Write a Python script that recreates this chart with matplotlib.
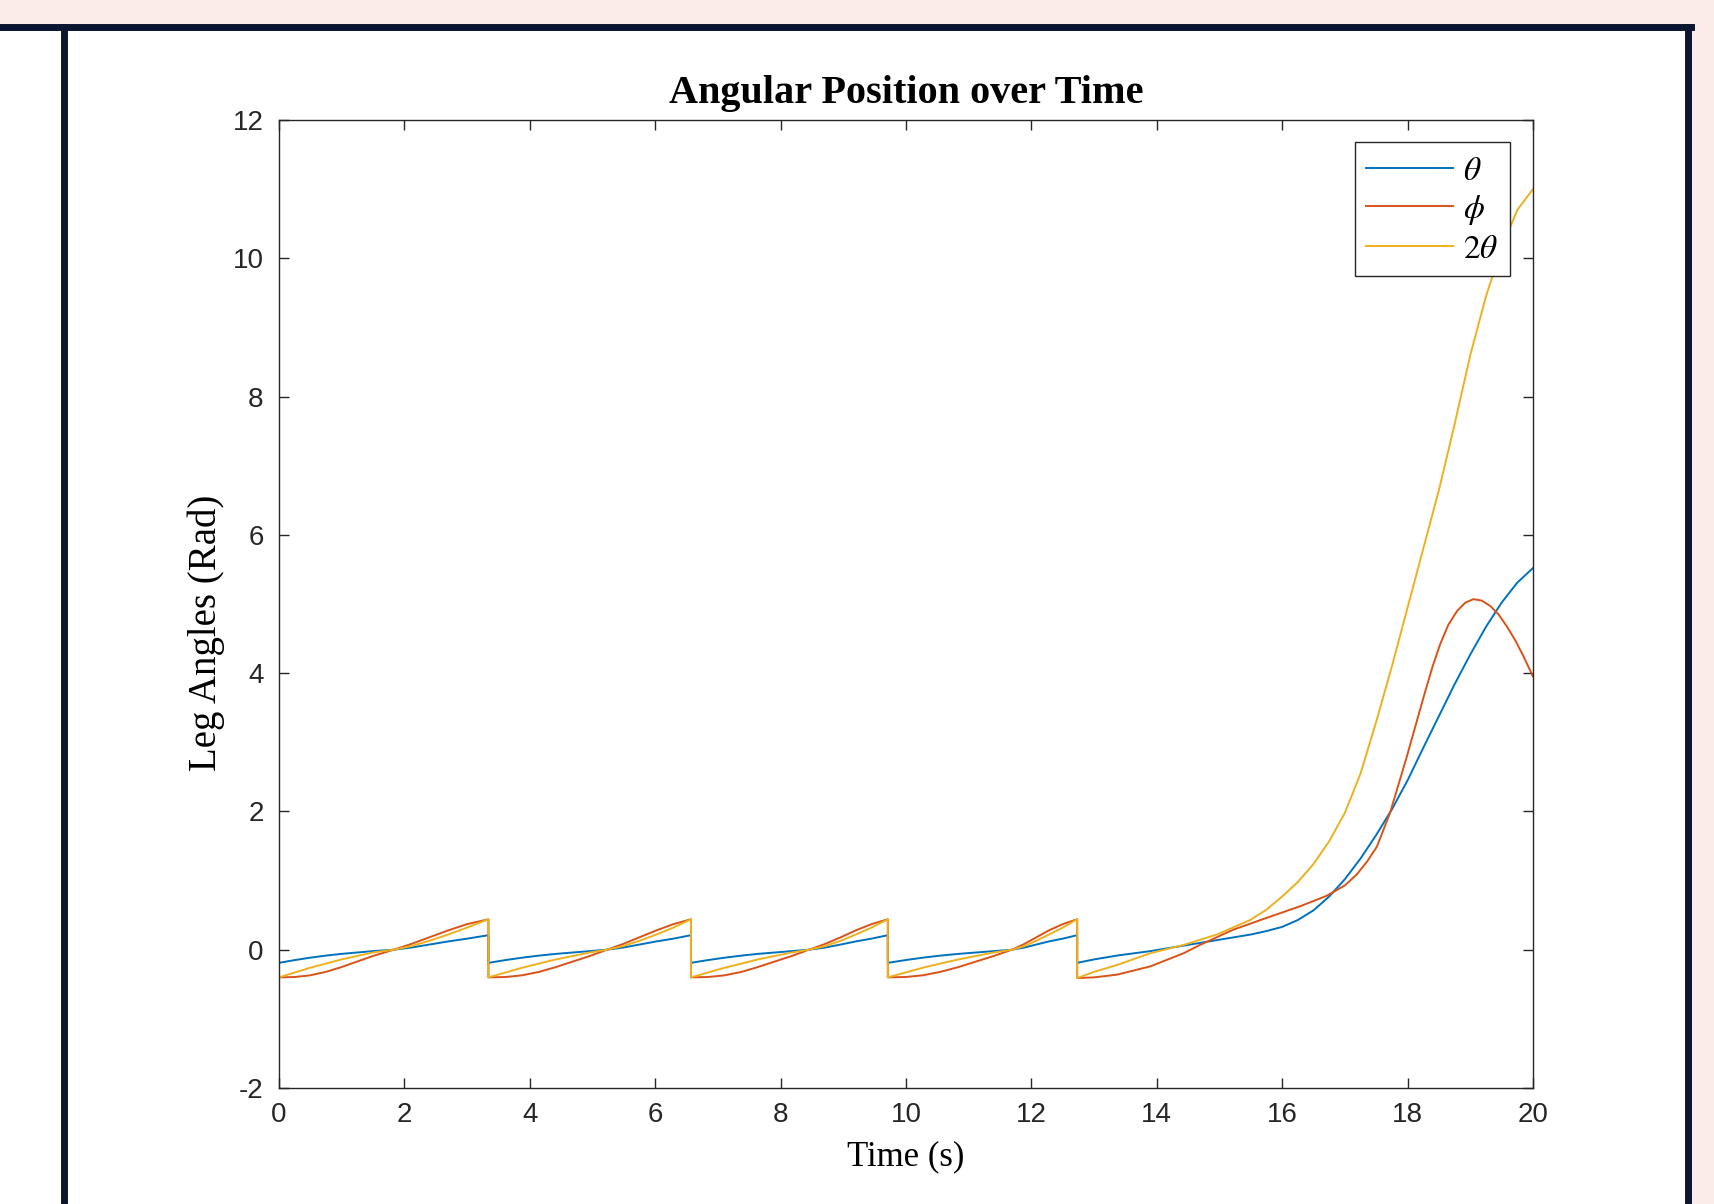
import matplotlib
matplotlib.use("Agg")
import matplotlib.pyplot as plt
from matplotlib.patches import Rectangle
from matplotlib.lines import Line2D

# time points of the four sawtooth steps (s)
seg_times = [
    [0.00, 0.25, 0.50, 0.75, 1.00, 1.25, 1.50, 1.83, 2.10, 2.40, 2.70, 3.00, 3.34],
    [3.34, 3.61, 3.88, 4.15, 4.42, 4.69, 4.96, 5.23, 5.48, 5.75, 6.02, 6.29, 6.57],
    [6.57, 6.84, 7.11, 7.38, 7.64, 7.91, 8.18, 8.45, 8.70, 8.96, 9.20, 9.45, 9.71],
    [9.71, 9.99, 10.27, 10.55, 10.84, 11.12, 11.40, 11.69, 11.88, 12.08, 12.28, 12.50, 12.73],
]

# values read along one step (same shape repeats)
saw_theta = [-0.19, -0.15, -0.115, -0.085, -0.06, -0.04, -0.02, 0.0, 0.03, 0.075, 0.12, 0.16, 0.21]
saw_phi = [-0.40, -0.395, -0.37, -0.32, -0.25, -0.17, -0.09, 0.0, 0.08, 0.18, 0.28, 0.37, 0.44]
saw_two_theta = [-0.40, -0.33, -0.26, -0.20, -0.14, -0.09, -0.04, 0.0, 0.05, 0.13, 0.22, 0.32, 0.44]

# last stretch, after the final reset
theta_end_t = [12.73, 13.0, 13.4, 13.9, 14.3, 14.7, 15.1, 15.5, 15.75, 16.0, 16.25, 16.5, 16.75,
               17.0, 17.25, 17.5, 17.75, 18.0, 18.25, 18.5, 18.75, 19.0, 19.25, 19.5, 19.75, 20.0]
theta_end = [-0.19, -0.14, -0.08, -0.02, 0.04, 0.10, 0.16, 0.22, 0.27, 0.33, 0.43, 0.57, 0.77,
             1.02, 1.32, 1.66, 2.03, 2.45, 2.92, 3.38, 3.84, 4.27, 4.67, 5.02, 5.31, 5.52]

phi_end_t = [12.73, 13.0, 13.37, 13.9, 14.43, 14.69, 15.22, 15.75, 16.29, 16.71, 17.0, 17.19, 17.35,
             17.51, 17.72, 17.99, 18.26, 18.4, 18.52, 18.65, 18.79, 18.92, 19.05, 19.18, 19.32,
             19.45, 19.58, 19.72, 19.85, 20.0]
phi_end = [-0.41, -0.40, -0.36, -0.24, -0.05, 0.07, 0.29, 0.46, 0.63, 0.78, 0.93, 1.09, 1.27,
           1.49, 1.98, 2.80, 3.67, 4.10, 4.42, 4.70, 4.90, 5.02, 5.07, 5.05, 4.97,
           4.85, 4.68, 4.47, 4.24, 3.95]

two_theta_end_t = [12.73, 13.0, 13.37, 13.9, 14.43, 14.96, 15.49, 15.75, 16.0, 16.25, 16.5, 16.75,
                   17.0, 17.25, 17.5, 17.75, 18.0, 18.25, 18.5, 18.75, 19.0, 19.25, 19.5,
                   19.75, 20.0]
two_theta_end = [-0.41, -0.32, -0.22, -0.05, 0.07, 0.22, 0.43, 0.58, 0.77, 0.98, 1.24, 1.57,
                 1.98, 2.55, 3.30, 4.10, 4.95, 5.80, 6.65, 7.60, 8.60, 9.45, 10.15,
                 10.70, 11.0]

two_theta_start = 0.41  # value at t=0 before the first drop

x_ticks = [0, 2, 4, 6, 8, 10, 12, 14, 16, 18, 20]
y_ticks = [-2, 0, 2, 4, 6, 8, 10, 12]


def build(saw, end_t, end_v):
    t, v = [], []
    for times in seg_times:
        t += times
        v += saw
    return t + end_t, v + end_v


theta_t, theta_v = build(saw_theta, theta_end_t, theta_end)
phi_t, phi_v = build(saw_phi, phi_end_t, phi_end)
tt_t, tt_v = build(saw_two_theta, two_theta_end_t, two_theta_end)
tt_t = [0.0] + tt_t
tt_v = [two_theta_start] + tt_v

plt.rcParams['mathtext.fontset'] = 'stix'
plt.rcParams['axes.unicode_minus'] = False

W, H = 1714, 1204
fig = plt.figure(figsize=(W / 100, H / 100), dpi=100)
fig.patch.set_facecolor('#fcece8')

# white panel with dark frame
fig.patches.append(Rectangle((0, 0), 1688 / W, 1 - 27 / H, transform=fig.transFigure,
                             facecolor='white', edgecolor='none', zorder=-10))
navy = '#0b1630'
fig.lines.append(Line2D([0, 1691 / W], [1 - 27 / H] * 2, transform=fig.transFigure,
                        color=navy, lw=5, zorder=-5))
fig.lines.append(Line2D([64 / W] * 2, [0, 1 - 27 / H], transform=fig.transFigure,
                        color=navy, lw=5, zorder=-5))
fig.lines.append(Line2D([1688 / W] * 2, [0, 1 - 27 / H], transform=fig.transFigure,
                        color=navy, lw=5, zorder=-5))

ax = fig.add_axes([279 / W, 1 - 1088 / H, (1533 - 279) / W, (1088 - 120) / H])
ax.set_facecolor('white')

ax.plot(theta_t, theta_v, color='#0072BD', lw=1.4, label=r'$\theta$')
ax.plot(phi_t, phi_v, color='#D95319', lw=1.4, label=r'$\phi$')
ax.plot(tt_t, tt_v, color='#EDB120', lw=1.4, label=r'$2\theta$')

ax.set_xlim(0, 20)
ax.set_ylim(-2, 12)
ax.set_xticks(x_ticks)
ax.set_yticks(y_ticks)
ax.tick_params(direction='in', top=True, right=True, length=7, width=1, color='#262626',
               labelsize=20, labelcolor='#262626')
ax.tick_params(axis='x', pad=10)
ax.tick_params(axis='y', pad=11)
for lab in ax.get_xticklabels() + ax.get_yticklabels():
    lab.set_fontfamily('Liberation Sans')
for sp in ax.spines.values():
    sp.set_color('#262626')
    sp.set_linewidth(1.0)

ax.set_title('Angular Position over Time', fontfamily='Liberation Serif', fontweight='bold',
             fontsize=29, pad=12)
ax.set_xlabel('Time (s)', fontfamily='Liberation Serif', fontsize=25, labelpad=9)
ax.set_ylabel('Leg Angles (Rad)', fontfamily='Liberation Serif', fontsize=28)
ax.yaxis.set_label_coords(-0.043, 0.47)

leg = ax.legend(loc='upper right', bbox_to_anchor=((1510 - 279) / 1254, (1088 - 142) / 968),
                borderaxespad=0, fontsize=24, handlelength=2.6, handletextpad=0.3,
                labelspacing=0.15, borderpad=0.35, fancybox=False, framealpha=1)
leg.get_frame().set_edgecolor('#262626')
leg.get_frame().set_linewidth(1.0)

fig.savefig('out.png', dpi=100, facecolor=fig.get_facecolor())
